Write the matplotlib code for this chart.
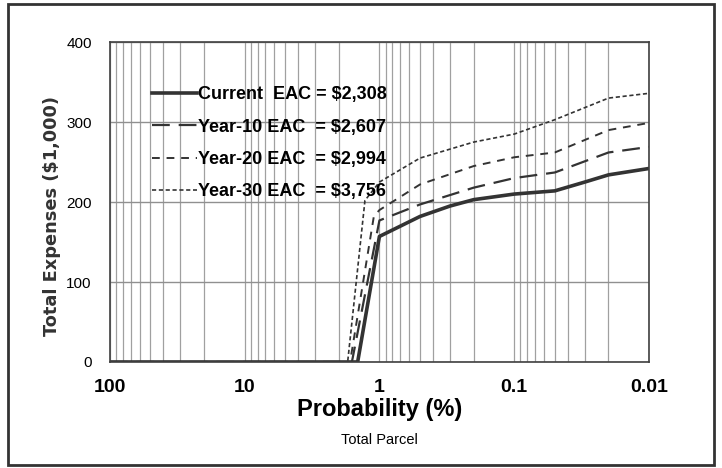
import matplotlib
matplotlib.use("Agg")
import matplotlib.pyplot as plt
from matplotlib.ticker import FixedLocator, LogLocator, NullFormatter
from matplotlib.patches import Rectangle

# probability (%) and total expenses ($1,000)
prob_current = [100, 1.45, 1.0, 0.5, 0.3, 0.2, 0.1, 0.05, 0.03, 0.02, 0.01]
exp_current = [0, 0, 157, 182, 195, 203, 210, 214, 225, 234, 242]

prob_y10 = [100, 1.6, 1.0, 0.5, 0.2, 0.1, 0.05, 0.02, 0.01]
exp_y10 = [0, 0, 177, 197, 218, 230, 237, 262, 269]

prob_y20 = [100, 1.65, 1.1, 1.0, 0.5, 0.2, 0.1, 0.05, 0.02, 0.01]
exp_y20 = [0, 0, 182, 190, 222, 245, 256, 262, 290, 299]

prob_y30 = [100, 1.72, 1.28, 1.0, 0.5, 0.2, 0.1, 0.05, 0.02, 0.01]
exp_y30 = [0, 0, 202, 225, 255, 275, 285, 303, 330, 336]

labels = ["Current  EAC = $2,308", "Year-10 EAC  = $2,607",
          "Year-20 EAC  = $2,994", "Year-30 EAC  = $3,756"]
xtick_vals = [100, 10, 1, 0.1, 0.01]
xtick_labels = ["100", "10", "1", "0.1", "0.01"]
ytick_vals = [0, 100, 200, 300, 400]

arial = ["Liberation Sans", "DejaVu Sans"]

fig = plt.figure(figsize=(7.22, 4.68), dpi=100)
ax = fig.add_axes([0.152, 0.2265, 0.747, 0.6835])

line_col = "#333333"
ax.plot(prob_current, exp_current, color=line_col, lw=2.6, ls="-", label=labels[0])
ax.plot(prob_y10, exp_y10, color=line_col, lw=1.6, ls=(0, (8, 4)), label=labels[1])
ax.plot(prob_y20, exp_y20, color=line_col, lw=1.4, ls=(0, (4, 3.5)), label=labels[2])
ax.plot(prob_y30, exp_y30, color=line_col, lw=1.2, ls=(0, (2.5, 1.6)), label=labels[3])

ax.set_xscale("log")
ax.set_xlim(100, 0.01)
ax.set_ylim(0, 400)
ax.xaxis.set_major_locator(FixedLocator(xtick_vals))
ax.xaxis.set_minor_locator(LogLocator(base=10, subs=range(2, 10)))
ax.xaxis.set_minor_formatter(NullFormatter())
ax.set_xticks(xtick_vals)
ax.set_xticklabels(xtick_labels, fontsize=14, fontweight="bold", family=arial)
ax.set_yticks(ytick_vals)
ax.set_yticklabels([str(v) for v in ytick_vals], fontsize=11, family=arial)
ax.tick_params(axis="both", which="both", length=0)
ax.tick_params(axis="x", pad=12)
ax.tick_params(axis="y", pad=13)

ax.grid(True, which="both", axis="x", color="#a0a0a0", lw=0.9)
ax.grid(True, which="major", axis="y", color="#909090", lw=1.0)
ax.set_axisbelow(True)
for s in ax.spines.values():
    s.set_color("#404040")
    s.set_linewidth(1.2)

ax.set_xlabel("Probability (%)", fontsize=17, fontweight="bold", family=arial, labelpad=2)
ax.set_ylabel("Total Expenses ($1,000)", fontsize=12.8, fontweight="bold",
              family="DejaVu Sans", color="#333333")
ax.yaxis.set_label_coords(-0.09, 0.456)
fig.text(0.526, 0.06, "Total Parcel", ha="center", va="center", fontsize=10.5, family=arial)

leg = ax.legend(loc="upper left", bbox_to_anchor=(0.078, 0.862), frameon=False,
                borderpad=0, borderaxespad=0,
                handlelength=2.5, handletextpad=0.05, labelspacing=0.85,
                prop={"family": arial, "weight": "bold", "size": 13})

fig.patches.append(Rectangle((0.011, 0.006), 0.978, 0.985, transform=fig.transFigure,
                             fill=False, edgecolor="#333333", lw=2))

fig.savefig("out.png", dpi=100)
